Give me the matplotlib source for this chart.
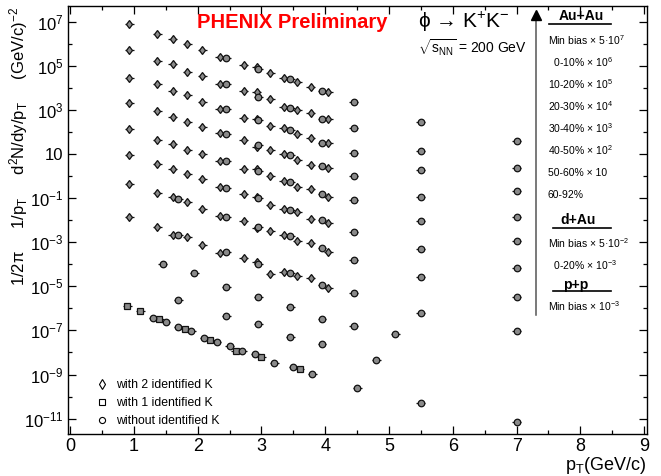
import numpy as np
import matplotlib
matplotlib.use('Agg')
import matplotlib.pyplot as plt
from matplotlib.lines import Line2D
from matplotlib.ticker import FixedLocator, FixedFormatter, MultipleLocator, NullFormatter

plt.rcParams['font.family'] = ['Liberation Sans', 'DejaVu Sans']
plt.rcParams['mathtext.fontset'] = 'custom'
plt.rcParams['mathtext.rm'] = 'Liberation Sans'
plt.rcParams['mathtext.it'] = 'Liberation Sans:italic'
plt.rcParams['mathtext.bf'] = 'Liberation Sans:bold'
plt.rcParams['mathtext.default'] = 'regular'

# pT bins (GeV/c)
pt_2k = [0.93, 1.37, 1.61, 1.84, 2.07, 2.35, 2.72, 2.93, 3.14, 3.35, 3.56, 3.77, 4.05]
pt_0k = [2.45, 2.95, 3.45, 3.95, 4.45, 5.5, 7.0]
pt_0k_periph = [1.7, 2.45, 2.95, 3.45, 3.95, 4.45, 5.5, 7.0]

# Au+Au, already scaled as in the legend
mb_2k = [7.6e6, 2.86e6, 1.64e6, 9.4e5, 5.4e5, 2.6e5, 1.09e5, 9.1e4, 4.7e4, 2.71e4, 1.84e4, 1.09e4, 6.7e3]
mb_0k = [2.19e5, 7.2e4, 2.44e4, 7.2e3, 2.4e3, 292, 38.9]
c0010_2k = [5.4e5, 1.65e5, 1.21e5, 5.4e4, 3.34e4, 1.5e4, 7.4e3, 6.7e3, 3.03e3, 1.31e3, 989, 702, 378]
c0010_0k = [1.45e4, 3.97e3, 1.22e3, 399, 147, 13.7, 2.39]
c1020_2k = [2.71e4, 1.45e4, 7.4e3, 4.74e3, 2.36e3, 1.13e3, 416, 386, 186, 147, 80.7, 51.5, 32.5]
c1020_0k = [1.13e3, 348, 122, 30.5, 11.5, 1.82, 0.217]
c2030_2k = [1.99e3, 865, 476, 283, 167, 86.9, 43.2, 21.4, 14.7, 9.68, 5.35, 3.17, 2.39]
c2030_0k = [78.2, 24.8, 8.73, 2.86, 1.0, 0.112, 0.0139]
c3040_2k = [132, 43.2, 28.4, 15.2, 10.3, 4.97, 2.02, 2.09, 1.0, 0.597, 0.309, 0.251, 0.116]
c3040_0k = [4.67, 1.64, 0.555, 0.153, 0.082, 0.00887, 0.0011]
c4050_2k = [9.0, 3.63, 2.02, 1.28, 0.735, 0.309, 0.149, 0.112, 0.0486, 0.0321, 0.0234, 0.0113, 0.0072]
c4050_0k = [0.296, 0.104, 0.0288, 0.0102, 0.00281, 4.76e-4, 6.55e-5]
c5060_2k = [0.45, 0.165, 0.116, 0.0646, 0.0321, 0.0159, 0.00887, 0.0044, 0.00333, 0.00206, 0.00117, 8.9e-4, 3.71e-4]
c5060_0k = [0.091, 0.0143, 0.00505, 0.00197, 5.28e-4, 1.56e-4, 2.72e-5, 3.17e-6]
c6092_2k = [0.0139, 0.00505, 0.00219, 0.00167, 7.23e-4, 3.14e-4, 1.86e-4, 1.22e-4, 3.72e-5, 4.32e-5, 2.93e-5, 2.31e-5, 8.1e-6]
c6092_0k = [0.00219, 3.48e-4, 1.03e-4, 3.89e-5, 1.15e-5, 4.82e-6, 5.97e-7, 9.4e-8]

# d+Au
dau_mb_pt = [1.45, 1.95, 2.45, 2.95, 3.45, 3.95, 4.45, 5.1]
dau_mb = [9.95e-5, 3.89e-5, 9.3e-6, 3.37e-6, 1.15e-6, 3.18e-7, 1.63e-7, 7.2e-8]
dau_c020_pt = [1.7, 2.45, 2.95, 3.45, 3.95, 4.8]
dau_c020 = [2.32e-6, 4.36e-7, 1.95e-7, 5.02e-8, 2.34e-8, 4.55e-9]

# p+p
pp_1k_pt = [0.9, 1.1, 1.4, 1.8, 2.2, 2.6, 3.0, 3.6]
pp_1k = [1.32e-6, 7.6e-7, 3.18e-7, 1.12e-7, 3.67e-8, 1.2e-8, 6.2e-9, 1.83e-9]
pp_0k_pt = [1.3, 1.5, 1.7, 1.9, 2.1, 2.3, 2.5, 2.7, 2.9, 3.2, 3.5, 3.8, 4.5, 5.5, 7.0]
pp_0k = [3.54e-7, 2.48e-7, 1.47e-7, 9.1e-8, 4.39e-8, 2.98e-8, 1.9e-8, 1.2e-8, 8.5e-9,
         3.43e-9, 2.12e-9, 1.05e-9, 2.37e-10, 4.94e-11, 6.8e-12]

auau_labels = ['Min bias \u00d7 5\u00b710$^{7}$', '  0-10% \u00d7 10$^{6}$', '10-20% \u00d7 10$^{5}$',
               '20-30% \u00d7 10$^{4}$', '30-40% \u00d7 10$^{3}$', '40-50% \u00d7 10$^{2}$',
               '50-60% \u00d7 10', '60-92%']
dau_labels = ['Min bias \u00d7 5\u00b710$^{-2}$', '  0-20% \u00d7 10$^{-3}$']
pp_labels = ['Min bias \u00d7 10$^{-3}$']

W, H = 661, 476
GREY = '#8a8a8a'
XBAR = 0.07
MS_D, MS_O, MS_S = 4.3, 4.7, 4.3


def px(x, y):
    return x / W, 1 - y / H


def draw(ax, x, y, marker, ms):
    ax.errorbar(x, y, xerr=XBAR, fmt=marker, ms=ms, mfc=GREY, mec='#111111', mew=0.9,
                ecolor='#111111', elinewidth=0.9, capsize=0, zorder=3)


fig = plt.figure(figsize=(W / 100, H / 100), dpi=100)
ax = fig.add_axes([67.5 / W, 1 - 434.3 / H, (646.7 - 67.5) / W, (434.3 - 6) / H])

for ys in [mb_2k, c0010_2k, c1020_2k, c2030_2k, c3040_2k, c4050_2k, c5060_2k, c6092_2k]:
    draw(ax, pt_2k, ys, 'd', MS_D)
for ys in [mb_0k, c0010_0k, c1020_0k, c2030_0k, c3040_0k, c4050_0k]:
    draw(ax, pt_0k, ys, 'o', MS_O)
for ys in [c5060_0k, c6092_0k]:
    draw(ax, pt_0k_periph, ys, 'o', MS_O)
draw(ax, dau_mb_pt, dau_mb, 'o', MS_O)
draw(ax, dau_c020_pt, dau_c020, 'o', MS_O)
draw(ax, pp_1k_pt, pp_1k, 's', MS_S)
draw(ax, pp_0k_pt, pp_0k, 'o', MS_O)

ax.set_yscale('log')
ax.set_xlim(-0.04, 9.04)
ax.set_ylim(10 ** -11.712, 10 ** 7.712)

ax.xaxis.set_major_locator(MultipleLocator(1))
ax.xaxis.set_minor_locator(MultipleLocator(0.5))
exps = list(range(-11, 8, 2))
ax.yaxis.set_major_locator(FixedLocator([10.0 ** e for e in exps]))
ax.yaxis.set_major_formatter(FixedFormatter(['10' if e == 1 else '$10^{%d}$' % e for e in exps]))
ax.yaxis.set_minor_locator(FixedLocator([10.0 ** e for e in range(-12, 8, 2)]))
ax.yaxis.set_minor_formatter(NullFormatter())
ax.tick_params(which='both', direction='in', top=True, right=True, width=0.9)
ax.tick_params(which='major', length=6)
ax.tick_params(which='minor', length=3)
ax.tick_params(axis='x', labelsize=13, pad=3)
ax.tick_params(axis='y', labelsize=12, pad=3)
for s in ax.spines.values():
    s.set_linewidth(1.0)

fig.text(*px(19, 7), '1/2\u03c0     1/p$_{T}$     d$^{2}$N/dy/p$_{T}$     (GeV/c)$^{-2}$', rotation=90,
         ha='center', va='top', fontsize=12)
fig.text(*px(646, 465), 'p$_{T}$(GeV/c)', ha='right', va='center', fontsize=13)

fig.text(*px(292, 22), 'PHENIX Preliminary', color='#ff0000', fontweight='bold',
         fontsize=14.5, ha='center', va='center')
fig.text(*px(418, 22), '\u03d5 \u2192 K$^{+}$K$^{-}$', fontsize=15, ha='left', va='center')
fig.text(*px(418, 48), r'$\sqrt{s_{NN}}$ = 200 GeV', fontsize=10, ha='left', va='center')

# centrality arrow
ax.plot([0.8084, 0.8084], [0.2785, 0.975], transform=ax.transAxes, color='#555555', lw=1.1, zorder=2)
ax.plot([0.8084], [0.978], transform=ax.transAxes, marker='^', ms=7, color='k', zorder=2)

# system / centrality labels on the right
fig.text(*px(581, 16), 'Au+Au', fontweight='bold', fontsize=10, ha='center', va='center')
fig.add_artist(Line2D([549 / W, 611 / W], [1 - 24 / H] * 2, color='k', lw=1.2))
for i, lab in enumerate(auau_labels):
    fig.text(*px(548, 40 + 22.1 * i), lab, fontsize=7.5, ha='left', va='center')
fig.text(*px(578, 220), 'd+Au', fontweight='bold', fontsize=10, ha='center', va='center')
fig.add_artist(Line2D([553 / W, 611 / W], [1 - 227.7 / H] * 2, color='k', lw=1.2))
for i, lab in enumerate(dau_labels):
    fig.text(*px(548, 243.3 + 21.7 * i), lab, fontsize=7.5, ha='left', va='center')
fig.text(*px(576, 285), 'p+p', fontweight='bold', fontsize=10, ha='center', va='center')
fig.add_artist(Line2D([553 / W, 611 / W], [1 - 291 / H] * 2, color='k', lw=1.2))
fig.text(*px(548, 306), pp_labels[0], fontsize=7.5, ha='left', va='center')

handles = [Line2D([], [], ls='none', marker='d', ms=MS_D + 0.5, mfc='white', mec='k', mew=0.8),
           Line2D([], [], ls='none', marker='s', ms=MS_S, mfc='white', mec='k', mew=0.8),
           Line2D([], [], ls='none', marker='o', ms=MS_O - 0.3, mfc='white', mec='k', mew=0.8)]
ax.legend(handles, ['with 2 identified K', 'with 1 identified K', 'without identified K'],
          loc='lower left', bbox_to_anchor=(0.0485, 0.017), frameon=False, fontsize=8.8,
          handlelength=1.0, handletextpad=0.67, labelspacing=0.5, borderpad=0, borderaxespad=0)

fig.savefig('out.png', dpi=100)
